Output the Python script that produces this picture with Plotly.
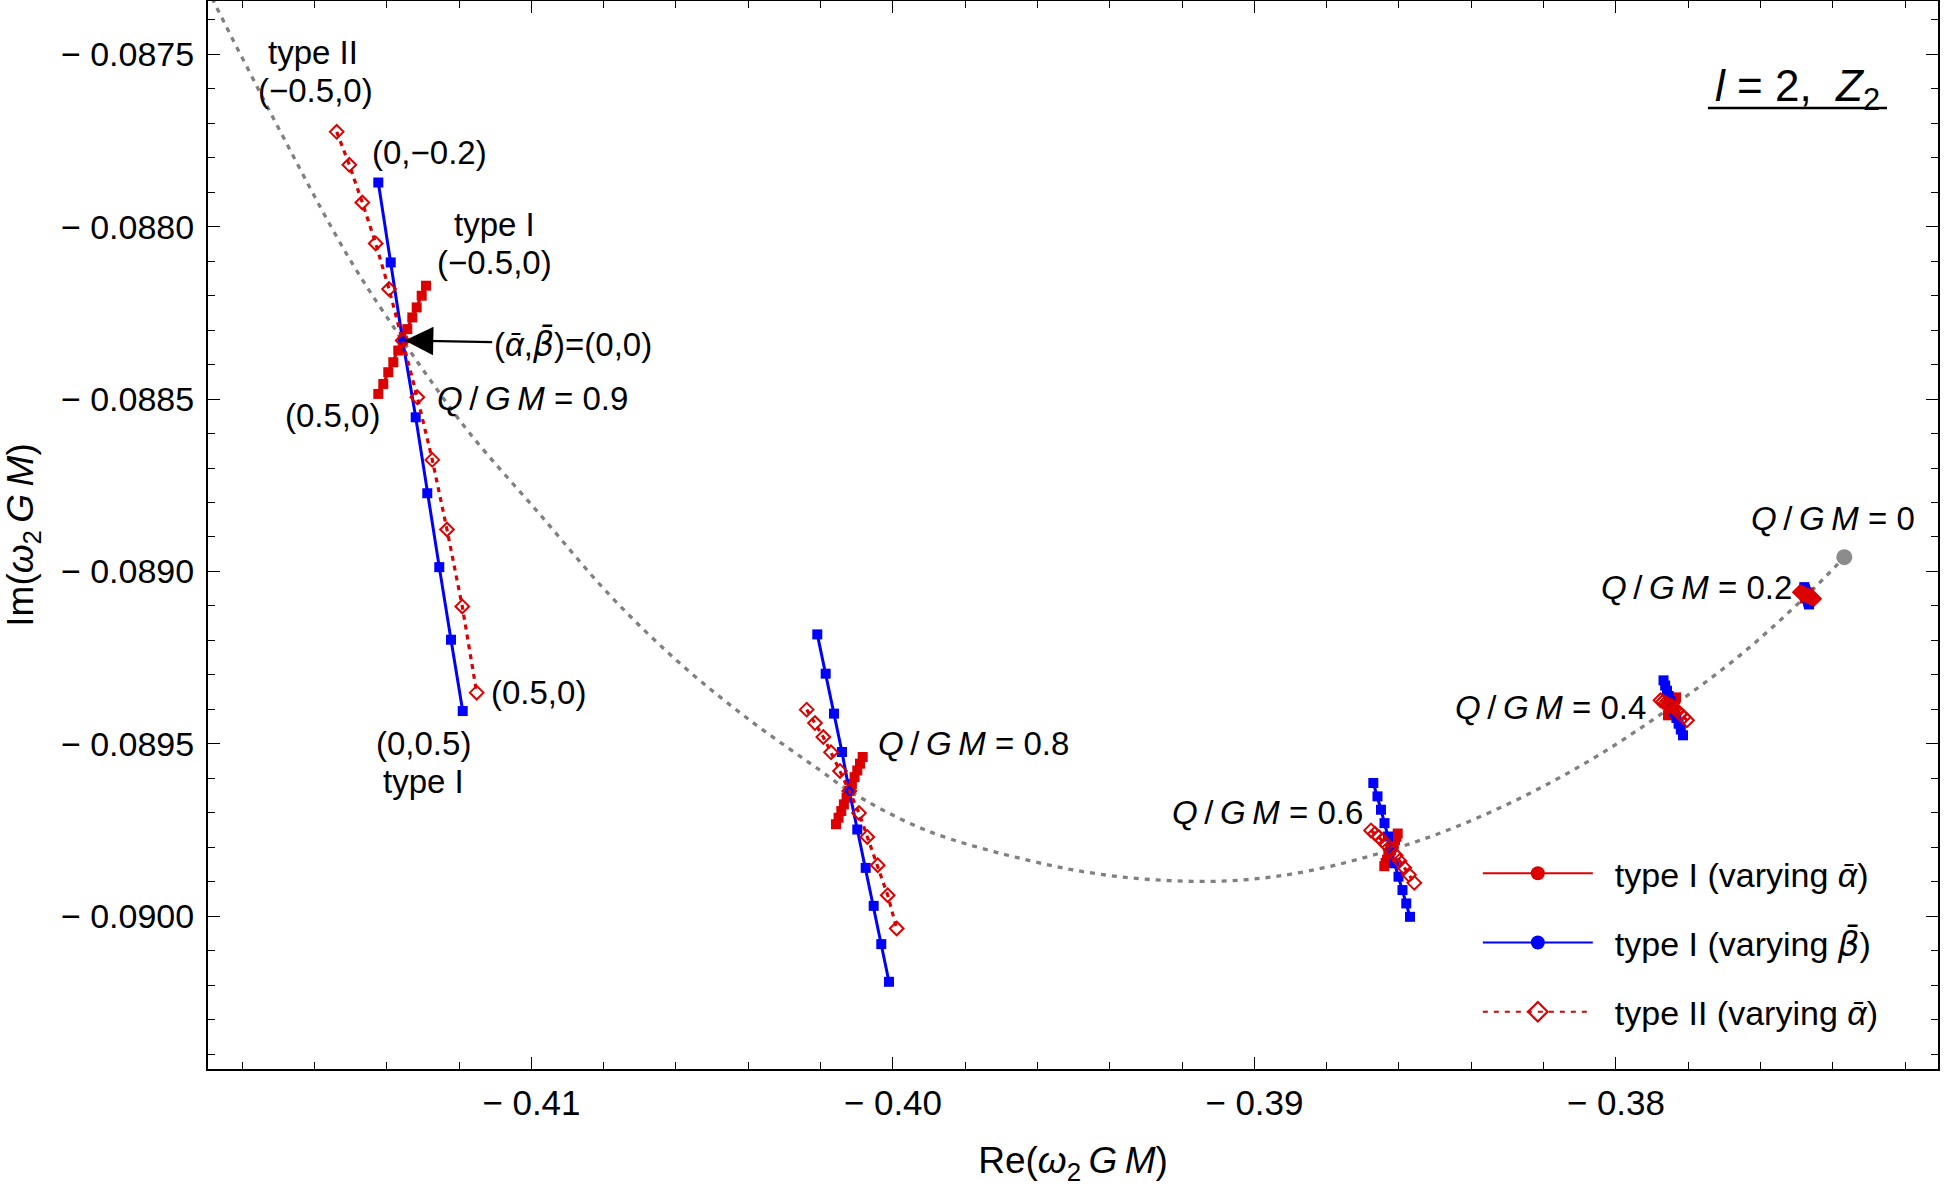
import plotly.graph_objects as go

# ---------------- data ----------------
# Q/GM = 0.9
q09_t1a_re = [-0.412916, -0.413035, -0.413173, -0.413295, -0.413433, -0.413560, -0.413682, -0.413820, -0.413959, -0.414097, -0.414235]
q09_t1a_im = [-0.088171, -0.088200, -0.088234, -0.088263, -0.088297, -0.088330, -0.088359, -0.088393, -0.088422, -0.088456, -0.088485]
q09_t1b_re = [-0.414235, -0.413892, -0.413560, -0.413200, -0.412880, -0.412548, -0.412224, -0.411900]
q09_t1b_im = [-0.0878716, -0.0881035, -0.0883304, -0.0885528, -0.0887731, -0.0889875, -0.0891980, -0.0894050]
q09_t2a_re = [-0.415386, -0.415037, -0.414678, -0.414307, -0.413939, -0.413560, -0.413156, -0.412741, -0.412335, -0.411912, -0.411513]
q09_t2a_im = [-0.0877246, -0.0878203, -0.0879296, -0.0880484, -0.0881806, -0.0883300, -0.0884948, -0.0886763, -0.0888783, -0.0891015, -0.0893516]

# Q/GM = 0.8
q08_t1a_re = [-0.400835, -0.400910, -0.400985, -0.401059, -0.401134, -0.401206, -0.401281, -0.401355, -0.401427, -0.401502, -0.401574]
q08_t1a_im = [-0.0895383, -0.0895577, -0.0895774, -0.0895968, -0.0896165, -0.0896368, -0.0896563, -0.0896757, -0.0896951, -0.0897145, -0.0897334]
q08_t1b_re = [-0.402091, -0.401859, -0.401629, -0.401408, -0.401206, -0.400985, -0.400752, -0.400531, -0.400321, -0.400108]
q08_t1b_im = [-0.0891826, -0.0892966, -0.0894125, -0.0895238, -0.0896368, -0.0897487, -0.0898600, -0.0899702, -0.0900812, -0.0901905]
q08_t2a_re = [-0.402384, -0.402155, -0.401925, -0.401712, -0.401463, -0.401206, -0.400938, -0.400708, -0.400420, -0.400144, -0.399895]
q08_t2a_im = [-0.0894009, -0.0894398, -0.0894803, -0.0895247, -0.0895789, -0.0896368, -0.0897006, -0.0897702, -0.0898522, -0.0899392, -0.0900357]

# Q/GM = 0.6
q06_t1a_re = [-0.386035, -0.386071, -0.386110, -0.386146, -0.386185, -0.386230, -0.386257, -0.386295, -0.386331, -0.386370, -0.386406]
q06_t1a_im = [-0.0897603, -0.0897699, -0.0897795, -0.0897887, -0.0897983, -0.0898079, -0.0898174, -0.0898270, -0.0898363, -0.0898459, -0.0898551]
q06_t1b_re = [-0.386710, -0.386594, -0.386498, -0.386401, -0.386304, -0.386230, -0.386124, -0.386013, -0.385903, -0.385798, -0.385695]
q06_t1b_im = [-0.0896137, -0.0896525, -0.0896913, -0.0897302, -0.0897690, -0.0898079, -0.0898467, -0.0898855, -0.0899244, -0.0899632, -0.0900020]
q06_t2a_re = [-0.386774, -0.386666, -0.386558, -0.386458, -0.386343, -0.386230, -0.386093, -0.385986, -0.385853, -0.385723, -0.385576]
q06_t2a_im = [-0.0897513, -0.0897606, -0.0897702, -0.0897809, -0.0897940, -0.0898079, -0.0898232, -0.0898397, -0.0898595, -0.0898803, -0.0899035]

# Q/GM = 0.4
q04_t1a_re = [-0.378337, -0.378359, -0.378381, -0.378403, -0.378425, -0.378447, -0.378470, -0.378492, -0.378514, -0.378536, -0.378558]
q04_t1a_im = [-0.0893653, -0.0893705, -0.0893757, -0.0893809, -0.0893861, -0.0893913, -0.0893966, -0.0894018, -0.0894070, -0.0894122, -0.0894174]
q04_t1b_re = [-0.378682, -0.378636, -0.378586, -0.378539, -0.378492, -0.378447, -0.378387, -0.378326, -0.378265, -0.378204, -0.378143]
q04_t1b_im = [-0.0893160, -0.0893310, -0.0893461, -0.0893612, -0.0893763, -0.0893913, -0.0894082, -0.0894250, -0.0894418, -0.0894586, -0.0894754]
q04_t2a_re = [-0.378766, -0.378696, -0.378627, -0.378564, -0.378503, -0.378447, -0.378373, -0.378296, -0.378213, -0.378124, -0.378033]
q04_t2a_im = [-0.0893740, -0.0893783, -0.0893821, -0.0893855, -0.0893887, -0.0893913, -0.0893980, -0.0894052, -0.0894134, -0.0894221, -0.0894319]

# Q/GM = 0.2
q02_t1a_re = [-0.374666, -0.374677, -0.374688, -0.374699, -0.374710, -0.374721, -0.374732, -0.374743, -0.374754, -0.374765, -0.374776]
q02_t1a_im = [-0.0890609, -0.0890626, -0.0890644, -0.0890661, -0.0890679, -0.0890696, -0.0890713, -0.0890731, -0.0890748, -0.0890766, -0.0890783]
q02_t1b_re = [-0.374788, -0.374774, -0.374760, -0.374749, -0.374735, -0.374721, -0.374707, -0.374696, -0.374683, -0.374672, -0.374658]
q02_t1b_im = [-0.0890455, -0.0890505, -0.0890551, -0.0890600, -0.0890647, -0.0890696, -0.0890748, -0.0890797, -0.0890850, -0.0890902, -0.0890957]
q02_t2a_re = [-0.374907, -0.374868, -0.374829, -0.374793, -0.374757, -0.374721, -0.374683, -0.374644, -0.374605, -0.374564, -0.374519]
q02_t2a_im = [-0.0890600, -0.0890618, -0.0890638, -0.0890658, -0.0890679, -0.0890696, -0.0890713, -0.0890731, -0.0890751, -0.0890771, -0.0890791]

# Reissner-Nordstrom curve (gray dotted) and Schwarzschild point
rn_re = [-0.418836, -0.418338, -0.417784, -0.417231, -0.416678, -0.416125, -0.415571, -0.415018, -0.414465,
         -0.413912, -0.413560, -0.412805, -0.411699, -0.409762, -0.407826, -0.405889, -0.403953, -0.402016,
         -0.401206, -0.399084, -0.396207, -0.394271, -0.392334, -0.390398, -0.388462, -0.386230, -0.384312,
         -0.382376, -0.380439, -0.378447, -0.376567, -0.374721, -0.373681]
rn_im = [-0.0873362, -0.0874406, -0.0875536, -0.0876667, -0.0877768, -0.0878870, -0.0879942, -0.0880957, -0.0881884,
         -0.0882754, -0.0883300, -0.0884435, -0.0886000, -0.0888348, -0.0890696, -0.0892667, -0.0894319, -0.0895768,
         -0.0896368, -0.0897508, -0.0898392, -0.0898783, -0.0898971, -0.0898957, -0.0898682, -0.0898079, -0.0897363,
         -0.0896435, -0.0895305, -0.0893913, -0.0892435, -0.0890696, -0.0889586]
schw_re = [-0.373681]
schw_im = [-0.0889586]

# ticks
x_tickvals = [-0.41, -0.40, -0.39, -0.38]
x_ticktext = ["\u2212 0.41", "\u2212 0.40", "\u2212 0.39", "\u2212 0.38"]
y_tickvals = [-0.0875, -0.0880, -0.0885, -0.0890, -0.0895, -0.0900]
y_ticktext = ["\u2212 0.0875", "\u2212 0.0880", "\u2212 0.0885",
              "\u2212 0.0890", "\u2212 0.0895", "\u2212 0.0900"]

ABAR = "<i>\u1fb1</i>"
BBAR = "<i><span style='font-family:DejaVu Sans'>\u03b2\u0304</span></i>"
legend_names = ["\u2002type I (varying " + ABAR + ")",
                "\u2002type I (varying " + BBAR + ")",
                "\u2002type II (varying " + ABAR + ")"]

# ---------------- styles ----------------
RED = "rgb(220,0,0)"
BLUE = "rgb(0,0,255)"
GRAY = "rgb(128,128,128)"
FONT = "Liberation Sans, Arial, Helvetica, sans-serif"

fig = go.Figure()

fig.add_trace(go.Scatter(x=rn_re, y=rn_im, mode="lines", line=dict(color=GRAY, width=3.3, dash="5px,6px", shape="spline"),
                         showlegend=False, hoverinfo="skip"))
fig.add_trace(go.Scatter(x=schw_re, y=schw_im, mode="markers", marker=dict(color="rgb(140,140,140)", size=16),
                         showlegend=False))

clusters = [
    (q09_t1a_re, q09_t1a_im, q09_t1b_re, q09_t1b_im, q09_t2a_re, q09_t2a_im),
    (q08_t1a_re, q08_t1a_im, q08_t1b_re, q08_t1b_im, q08_t2a_re, q08_t2a_im),
    (q06_t1a_re, q06_t1a_im, q06_t1b_re, q06_t1b_im, q06_t2a_re, q06_t2a_im),
    (q04_t1a_re, q04_t1a_im, q04_t1b_re, q04_t1b_im, q04_t2a_re, q04_t2a_im),
    (q02_t1a_re, q02_t1a_im, q02_t1b_re, q02_t1b_im, q02_t2a_re, q02_t2a_im),
]
for a_re, a_im, b_re, b_im, c_re, c_im in clusters:
    fig.add_trace(go.Scatter(x=a_re, y=a_im, mode="lines+markers",
                             line=dict(color=RED, width=3),
                             marker=dict(symbol="square", size=10, color=RED),
                             showlegend=False))
    syms = ["square"] * len(b_re)
    mid = a_re[len(a_re) // 2]
    if mid in b_re:
        syms[b_re.index(mid)] = "circle"
    fig.add_trace(go.Scatter(x=b_re, y=b_im, mode="lines+markers",
                             line=dict(color=BLUE, width=3),
                             marker=dict(symbol=syms, size=10, color=BLUE),
                             showlegend=False))
    fig.add_trace(go.Scatter(x=c_re, y=c_im, mode="lines+markers",
                             line=dict(color=RED, width=3.2, dash="5px,5px"),
                             marker=dict(symbol="diamond-open", size=10.5, color=RED, line=dict(width=2, color=RED)),
                             showlegend=False))

# legend entries
fig.add_trace(go.Scatter(x=[None], y=[None], mode="lines+markers", name=legend_names[0], legendgroup="a",
                         line=dict(color=RED, width=2), marker=dict(symbol="circle", size=14, color=RED)))
fig.add_trace(go.Scatter(x=[None], y=[None], mode="lines+markers", name=legend_names[1], legendgroup="b",
                         line=dict(color=BLUE, width=2), marker=dict(symbol="circle", size=14, color=BLUE)))
fig.add_trace(go.Scatter(x=[None], y=[None], mode="lines+markers", name=legend_names[2], legendgroup="c",
                         line=dict(color=RED, width=2, dash="5px,6px"),
                         marker=dict(symbol="diamond-open", size=15, color=RED, line=dict(width=2.2, color=RED))))

# ---------------- annotations ----------------
TXT = dict(family=FONT, size=33, color="black")
qgm = "<i>Q</i>\u2009/\u2009<i>G</i>\u2009<i>M</i> = "
ann = [
    (-0.416033, -0.0874948, "type II"),
    (-0.415986, -0.0876058, "(\u22120.5,0)"),
    (-0.412805, -0.0877846, "(0,\u22120.2)"),
    (-0.411007, -0.0879922, "type I"),
    (-0.411007, -0.0881035, "(\u22120.5,0)"),
    (-0.409970, -0.0884994, qgm + "0.9"),
    (-0.415502, -0.0885478, "(0.5,0)"),
    (-0.409790, -0.0893499, "(0.5,0)"),
    (-0.412990, -0.0894994, "(0,0.5)"),
    (-0.412990, -0.0896108, "type I"),
    (-0.397776, -0.0894994, qgm + "0.8"),
    (-0.389651, -0.0896986, qgm + "0.6"),
    (-0.381795, -0.0893934, qgm + "0.4"),
    (-0.377756, -0.0890478, qgm + "0.2"),
    (-0.373994, -0.0888464, qgm + "0"),
]
for x, y, t in ann:
    fig.add_annotation(x=x, y=y, text=t, showarrow=False, font=TXT, xanchor="center", yanchor="middle")

fig.add_annotation(x=q09_t1a_re[5], y=q09_t1a_im[5], text="(" + ABAR + "," + BBAR + ")=(0,0)",
                   showarrow=True, ax=170, ay=3, axref="pixel", ayref="pixel",
                   arrowhead=2, arrowsize=2.6, arrowwidth=2.2, arrowcolor="black", standoff=2,
                   font=TXT, xanchor="center", yanchor="middle")

# panel label
fig.add_annotation(xref="paper", yref="paper", x=0.9185, y=0.918,
                   text="<i>l</i> = 2,  <i>Z</i><sub>2</sub>", showarrow=False,
                   font=dict(family=FONT, size=44, color="black"), xanchor="center", yanchor="middle")
fig.add_shape(type="line", xref="paper", yref="paper", x0=0.867, x1=0.9705, y0=0.8998, y1=0.8998,
              line=dict(color="black", width=2.5))

axis_common = dict(showline=True, linecolor="black", linewidth=2, mirror="allticks",
                   ticks="inside", ticklen=12, tickwidth=1.3, tickcolor="black",
                   showgrid=False, zeroline=False, automargin=False)

fig.update_layout(
    width=1944, height=1188,
    margin=dict(l=208, r=6, t=1, b=119, autoexpand=False),
    paper_bgcolor="white", plot_bgcolor="white",
    font=dict(family=FONT, size=33, color="black"),
    xaxis=dict(range=[-0.418946, -0.371089], tickmode="array", tickvals=x_tickvals, ticktext=x_ticktext,
               minor=dict(tickmode="linear", tick0=-0.41, dtick=0.002, ticks="inside", ticklen=7,
                          tickwidth=1.1, tickcolor="black"),
               title=dict(text="Re(<i>\u03c9</i><sub>2</sub>\u2009<i>G</i>\u2009<i>M</i>)", font=dict(family=FONT, size=37), standoff=26),
               ticklabelstandoff=2, tickfont=dict(family=FONT, size=35, color="black"),
               **axis_common),
    yaxis=dict(range=[-0.0904435, -0.087345], tickmode="array", tickvals=y_tickvals, ticktext=y_ticktext,
               minor=dict(tickmode="linear", tick0=-0.09, dtick=0.0001, ticks="inside", ticklen=7,
                          tickwidth=1.1, tickcolor="black"),
               title=dict(text="Im(<i>\u03c9</i><sub>2</sub>\u2009<i>G</i>\u2009<i>M</i>)", font=dict(family=FONT, size=37), standoff=18),
               ticklabelstandoff=5, tickfont=dict(family=FONT, size=34, color="black"),
               **axis_common),
    legend=dict(x=0.734, y=0.21, xanchor="left", yanchor="top", bgcolor="rgba(0,0,0,0)",
                font=dict(family=FONT, size=34, color="black"), traceorder="grouped",
                tracegroupgap=22, itemwidth=110),
    showlegend=True,
)

fig.write_html("out.html", config={"displayModeBar": False},
               post_script="document.body.style.margin='0';document.body.style.overflow='hidden';")
